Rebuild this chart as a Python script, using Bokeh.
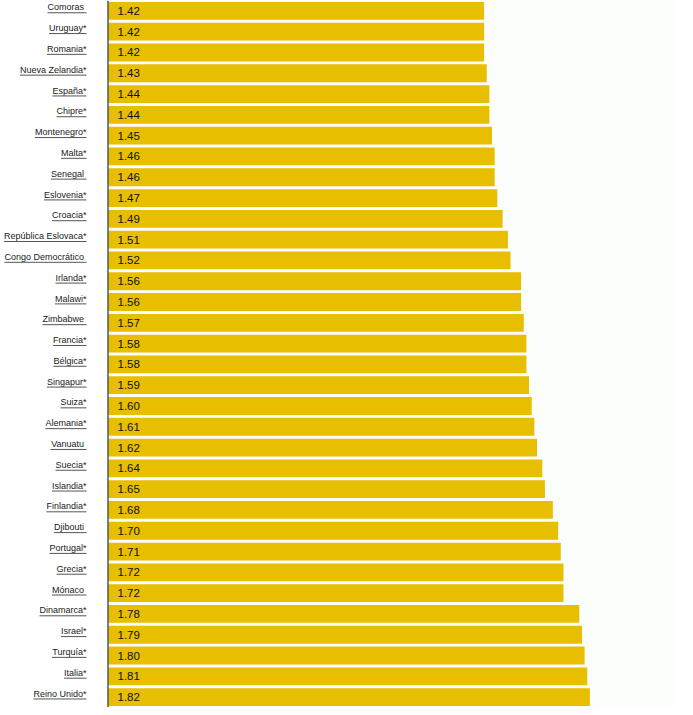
from bokeh.plotting import figure
from bokeh.models import Range1d, Span, BoxAnnotation, ColumnDataSource
from bokeh.core.properties import value
from bokeh.embed import file_html
from bokeh.resources import INLINE

countries = ["Comoras ", "Uruguay*", "Romania*", "Nueva Zelandia*", "España*", "Chipre*",
             "Montenegro*", "Malta*", "Senegal ", "Eslovenia*", "Croacia*",
             "República Eslovaca*", "Congo Democrático ", "Irlanda*", "Malawi*",
             "Zimbabwe ", "Francia*", "Bélgica*", "Singapur*", "Suiza*", "Alemania*",
             "Vanuatu ", "Suecia*", "Islandia*", "Finlandia*", "Djibouti ", "Portugal*",
             "Grecia*", "Mónaco ", "Dinamarca*", "Israel*", "Turquía*", "Italia*",
             "Reino Unido*"]
values = [1.42, 1.42, 1.42, 1.43, 1.44, 1.44, 1.45, 1.46, 1.46, 1.47, 1.49, 1.51, 1.52,
          1.56, 1.56, 1.57, 1.58, 1.58, 1.59, 1.60, 1.61, 1.62, 1.64, 1.65, 1.68, 1.70,
          1.71, 1.72, 1.72, 1.78, 1.79, 1.80, 1.81, 1.82]

# Arial / Liberation Sans advance widths (per 1000 em) used to size the link underlines
ARIAL = {' ': 278, '*': 389, 'a': 556, 'b': 556, 'c': 500, 'd': 556, 'e': 556, 'f': 278,
         'g': 556, 'h': 556, 'i': 222, 'j': 222, 'k': 500, 'l': 222, 'm': 833, 'n': 556,
         'o': 556, 'p': 556, 'q': 556, 'r': 333, 's': 500, 't': 278, 'u': 556, 'v': 500,
         'w': 722, 'x': 500, 'y': 500, 'z': 500, 'A': 667, 'B': 667, 'C': 722, 'D': 722,
         'E': 667, 'F': 611, 'G': 778, 'H': 722, 'I': 278, 'J': 500, 'K': 667, 'L': 556,
         'M': 833, 'N': 722, 'O': 778, 'P': 667, 'Q': 778, 'R': 722, 'S': 667, 'T': 611,
         'U': 722, 'V': 667, 'W': 944, 'X': 667, 'Y': 667, 'Z': 611,
         'á': 556, 'é': 556, 'í': 278, 'ó': 556, 'ú': 556, 'ñ': 556}

W, H = 685, 707
LEFT_PX = 108          # screen px from figure left to the bars' origin
K = 264.5              # px per unit
LABEL_FS = 9.0
LABEL_RIGHT = -22.0 / K

n = len(countries)
ys = list(range(n))
names = [c.rstrip() for c in countries]
xoff = [-(ARIAL[' '] * LABEL_FS / 1000.0) if c.endswith(' ') else 0 for c in countries]
widths = [sum(ARIAL.get(ch, 556) for ch in c) * LABEL_FS / 1000.0 for c in countries]
ux0 = [LABEL_RIGHT - w / K for w in widths]
uy = [y + 0.09 for y in ys]

src = ColumnDataSource(dict(y=ys, v=values, vtxt=["%.2f" % v for v in values],
                            name=names, xoff=xoff, ux0=ux0, uy=uy))

p = figure(width=W, height=H, output_backend="svg", toolbar_location=None,
           x_range=Range1d(-LEFT_PX / K, (W - LEFT_PX) / K),
           y_range=Range1d(n - 0.5, -0.5),
           x_axis_location=None, y_axis_location=None, min_border=0)
p.grid.visible = False
p.outline_line_color = None
p.background_fill_color = "white"
p.border_fill_color = "white"

p.add_layout(BoxAnnotation(left=-0.5 / K, right=(676 - LEFT_PX) / K,
                           fill_color="#FCFEFC", fill_alpha=1.0, line_color=None,
                           level="underlay"))
p.add_layout(Span(location=-0.5 / K, dimension="height", line_color="black",
                  line_width=1))

p.hbar(y="y", left=0, right="v", height=18 / 21, source=src,
       fill_color="#E8BE00", line_color=None)

p.text(x=0, y="y", text="vtxt", x_offset=9, source=src, text_baseline="middle",
       text_align="left", text_font=value("Liberation Sans"), text_font_size="11.5px",
       text_color="#111111")

p.text(x=LABEL_RIGHT, y="y", text="name", x_offset="xoff", y_offset=-3.5, source=src,
       text_baseline="middle", text_align="right",
       text_font=value("Liberation Sans"), text_font_size="9px", text_color="#1a1a1a")

p.segment(x0="ux0", x1=LABEL_RIGHT, y0="uy", y1="uy", source=src,
          line_color="#555555", line_width=1)

open("out.html", "w").write(file_html(p, INLINE))
